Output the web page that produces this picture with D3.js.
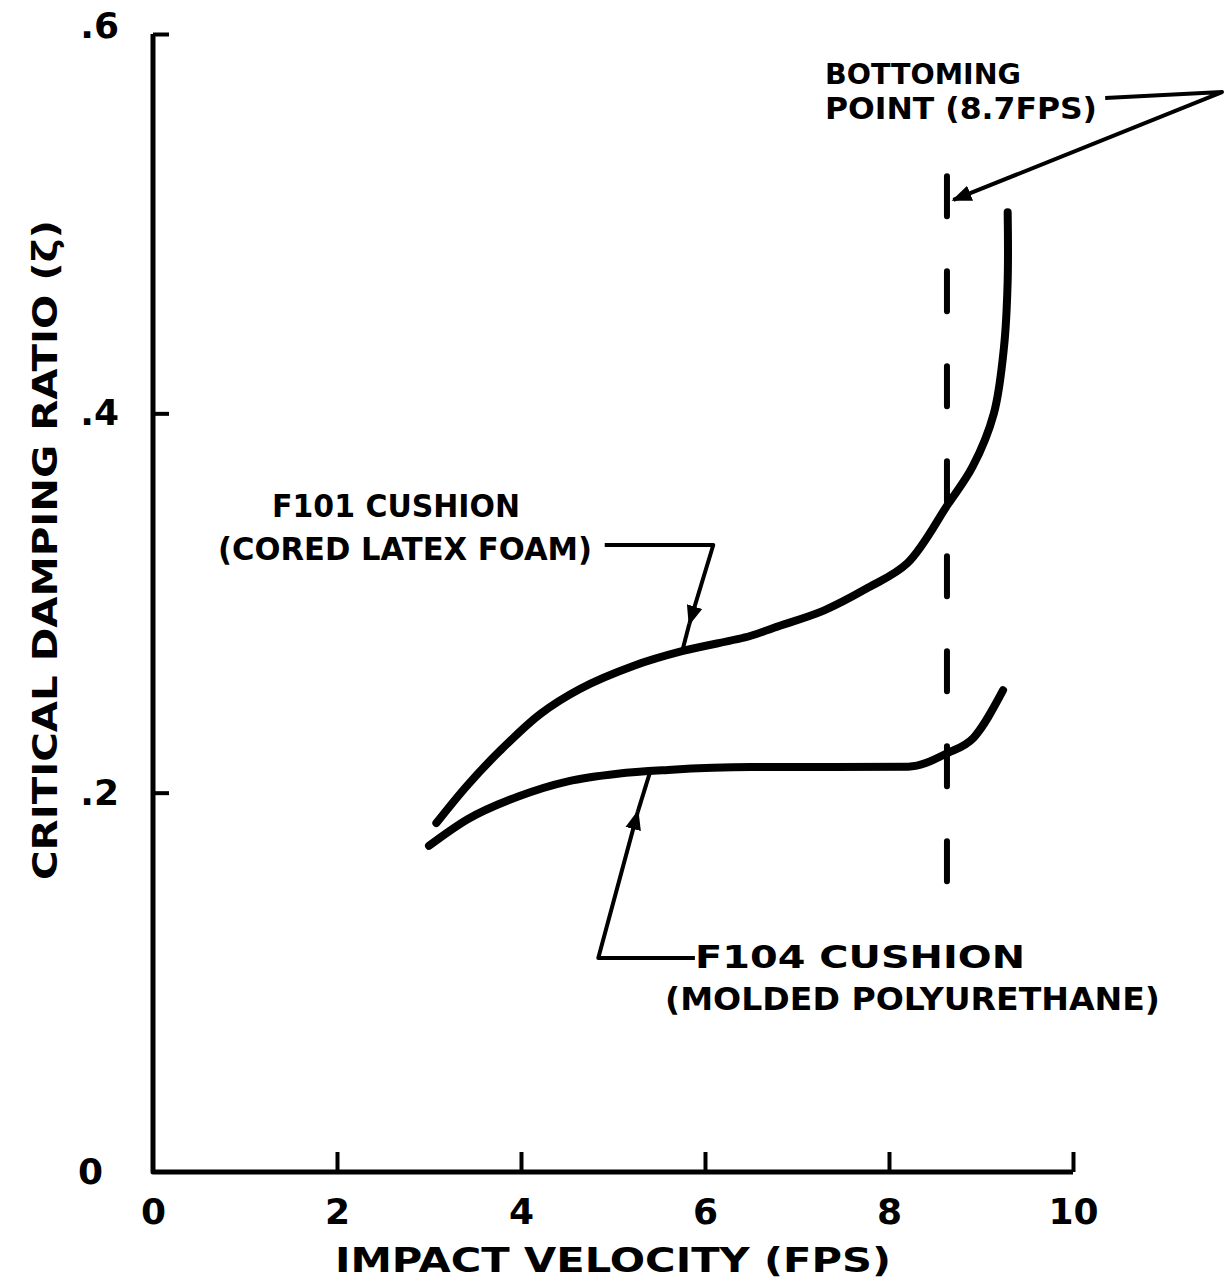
<!DOCTYPE html>
<html>
<head>
<meta charset="utf-8">
<script src="https://cdn.jsdelivr.net/npm/d3@7"></script>
<style>
  body { margin: 0; background: #fff; }
  text { font-family: "DejaVu Sans", sans-serif; font-weight: bold; fill: #000; }
</style>
</head>
<body>
<script>
// dati
var xTicks = [0, 2, 4, 6, 8, 10];
var yTicks = [0, 0.2, 0.4, 0.6];

// F101 cushion (cored latex foam)
var f101V = [3.08, 3.41, 3.77, 4.21, 4.64, 5.22, 5.76, 6.49, 6.75, 7.29, 7.77, 8.20, 8.64, 8.91, 9.14, 9.25, 9.29, 9.29];
var f101Z = [0.184, 0.2035, 0.222, 0.2415, 0.2547, 0.2668, 0.2747, 0.2826, 0.287, 0.296, 0.308, 0.321, 0.352, 0.372, 0.400, 0.435, 0.470, 0.506];

// F104 cushion (molded polyurethane)
var f104V = [3.00, 3.42, 3.97, 4.51, 5.05, 5.60, 6.50, 7.37, 8.21, 8.64, 8.92, 9.24];
var f104Z = [0.172, 0.186, 0.198, 0.206, 0.210, 0.212, 0.2135, 0.2135, 0.2137, 0.221, 0.229, 0.254];

// bottoming point
var bottomV = 8.63;
var bottomZ = [0.148, 0.525];

var w = 1226, h = 1282;

var svg = d3.select("body").append("svg")
    .attr("width", w)
    .attr("height", h);

var x = d3.scaleLinear().domain([0, 10]).range([153, 1073]);
var y = d3.scaleLinear().domain([0, 0.6]).range([1172, 34]);

// marker freccia
svg.append("defs").append("marker")
    .attr("id", "arrow")
    .attr("viewBox", "0 0 10 10")
    .attr("refX", 9).attr("refY", 5)
    .attr("markerWidth", 5).attr("markerHeight", 5)
    .attr("markerUnits", "strokeWidth")
    .attr("orient", "auto")
    .append("path").attr("d", "M0,1 L10,5 L0,9 Z").attr("fill", "#000");

// assi
var xAxis = svg.append("g")
    .attr("transform", "translate(0," + y(0) + ")")
    .call(d3.axisBottom(x).tickValues(xTicks).tickSize(-20).tickPadding(26)
        .tickFormat(d3.format("d")));
xAxis.select(".domain").remove();
xAxis.selectAll("line").attr("stroke-width", 4);
xAxis.selectAll("text").style("font-size", "36px").style("font-family", "DejaVu Sans").style("font-weight", "bold");
xAxis.selectAll(".tick").filter(d => d === 0).select("line").remove();

var yAxis = svg.append("g")
    .attr("transform", "translate(" + x(0) + ",0)")
    .call(d3.axisLeft(y).tickValues(yTicks).tickSize(-16).tickPadding(34)
        .tickFormat(d => d === 0 ? "0" : d3.format(".1f")(d).replace("0.", ".")));
yAxis.select(".domain").remove();
yAxis.selectAll("line").attr("stroke-width", 4);
yAxis.selectAll("text").style("font-size", "36px").style("font-family", "DejaVu Sans").style("font-weight", "bold");
yAxis.selectAll(".tick").filter(d => d === 0).select("line").remove();
yAxis.selectAll(".tick").filter(d => d === 0).select("text").attr("x", -50);
yAxis.selectAll(".tick").filter(d => d === 0.6).select("text").attr("dy", "0.1em");

// linee degli assi
svg.append("path")
    .attr("d", d3.line()([[x(0), y(0.6)], [x(0), y(0)], [x(10), y(0)]]))
    .attr("fill", "none").attr("stroke", "#000").attr("stroke-width", 5)
    .attr("stroke-linejoin", "round");

// curve
var lineUp = d3.line().x(d => x(d[0])).y(d => y(d[1])).curve(d3.curveCatmullRom.alpha(0.5));
var lineLo = d3.line().x(d => x(d[0])).y(d => y(d[1])).curve(d3.curveMonotoneX);

svg.append("path")
    .datum(d3.zip(f101V, f101Z))
    .attr("d", lineUp)
    .attr("fill", "none").attr("stroke", "#000").attr("stroke-width", 8)
    .attr("stroke-linecap", "round");

svg.append("path")
    .datum(d3.zip(f104V, f104Z))
    .attr("d", lineLo)
    .attr("fill", "none").attr("stroke", "#000").attr("stroke-width", 8)
    .attr("stroke-linecap", "round");

// linea tratteggiata del bottoming point
svg.append("line")
    .attr("x1", x(bottomV)).attr("x2", x(bottomV))
    .attr("y1", y(bottomZ[1])).attr("y2", y(bottomZ[0]))
    .attr("stroke", "#000").attr("stroke-width", 6)
    .attr("stroke-dasharray", "40,55").attr("stroke-linecap", "round");

// richiami (in unita' dei dati)
var plain = d3.line().x(d => x(d[0])).y(d => y(d[1]));

function leader(pts, tail) {
    svg.append("path")
        .attr("d", plain(pts))
        .attr("fill", "none").attr("stroke", "#000").attr("stroke-width", 4)
        .attr("stroke-linejoin", "round")
        .attr("marker-end", "url(#arrow)");
    if (tail) {
        svg.append("path")
            .attr("d", plain(tail))
            .attr("fill", "none").attr("stroke", "#000").attr("stroke-width", 4);
    }
}

leader([[4.91, 0.3306], [6.09, 0.3306], [5.83, 0.2890]], [[5.83, 0.2890], [5.75, 0.2742]]);
leader([[5.89, 0.1128], [4.84, 0.1128], [5.27, 0.1900]], [[5.27, 0.1900], [5.40, 0.2104]]);
leader([[10.35, 0.5663], [11.62, 0.5694], [8.70, 0.5125]]);

// testi
function label(t, x0, base, len, size) {
    svg.append("text")
        .attr("x", x0).attr("y", base)
        .attr("textLength", len)
        .attr("lengthAdjust", "spacingAndGlyphs")
        .style("font-size", size + "px")
        .text(t);
}

label("BOTTOMING", 825, 84, 196, 29);
label("POINT (8.7FPS)", 825, 119, 272, 30);
label("F101 CUSHION", 272, 517, 248, 32);
label("(CORED LATEX FOAM)", 218, 560, 374, 32);
label("F104 CUSHION", 695, 968, 330, 32);
label("(MOLDED POLYURETHANE)", 665, 1010, 495, 32);
label("IMPACT VELOCITY (FPS)", 335, 1272, 556, 34);

svg.append("text")
    .attr("transform", "translate(57,880) rotate(-90)")
    .attr("textLength", 660)
    .attr("lengthAdjust", "spacingAndGlyphs")
    .style("font-size", "33px")
    .text("CRITICAL DAMPING RATIO (ζ)");
</script>
</body>
</html>
